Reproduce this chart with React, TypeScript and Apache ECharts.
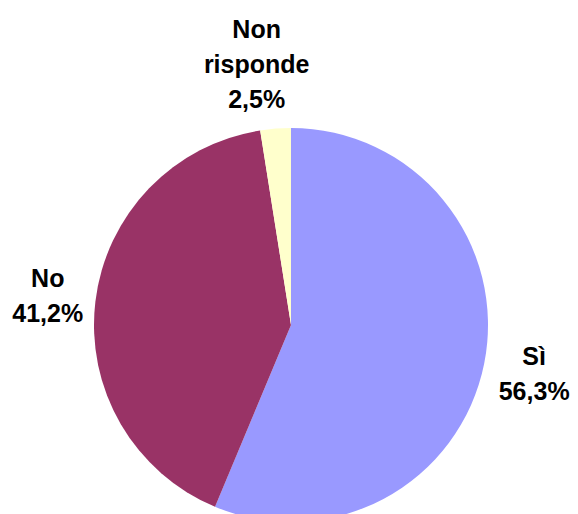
import React, { useEffect, useRef } from "react";
import * as echarts from "echarts";

const categories = ["Sì", "No", "Non risponde"];
const values = [56.3, 41.2, 2.5];
const colors = ["#9999FF", "#993366", "#FFFFCC"];
const labelNames = ["Sì", "No", "Non\nrisponde"];

const CENTER: [number, number] = [291, 325];
const RADIUS = 197;
// label anchor distance from centre and angular nudge (deg) per slice
const LABEL_DIST = [248, 245, 263];
const LABEL_NUDGE = [0, 0, -3];

export default function App() {
  const ref = useRef<HTMLDivElement>(null);
  useEffect(() => {
    if (!ref.current) return;
    const chart = echarts.init(ref.current, undefined, { renderer: "svg" });
    const total = values.reduce((a, b) => a + b, 0);
    const mids: number[] = [];
    let acc = 0;
    values.forEach((v) => {
      mids.push(((acc + v / 2) / total) * 360);
      acc += v;
    });
    chart.setOption({
      animation: false,
      backgroundColor: "#ffffff",
      series: [
        {
          type: "pie",
          center: CENTER,
          radius: RADIUS,
          startAngle: 90,
          clockwise: true,
          avoidLabelOverlap: false,
          data: categories.map((c, i) => ({
            name: c,
            value: values[i],
            itemStyle: { color: colors[i] },
          })),
          itemStyle: { borderWidth: 0 },
          label: {
            show: true,
            position: "outside",
            formatter: (p: any) =>
              labelNames[p.dataIndex] +
              "\n" +
              values[p.dataIndex].toFixed(1).replace(".", ",") +
              "%",
            color: "#000000",
            fontFamily: "Liberation Sans, Arial, sans-serif",
            fontWeight: "bold",
            fontSize: 25,
            lineHeight: 35,
            align: "center",
          },
          labelLine: { show: false },
          labelLayout: (params: any) => {
            const i = params.dataIndex;
            const a = ((mids[i] + LABEL_NUDGE[i]) * Math.PI) / 180;
            return {
              x: CENTER[0] + LABEL_DIST[i] * Math.sin(a),
              y: CENTER[1] - LABEL_DIST[i] * Math.cos(a),
              align: "center",
              verticalAlign: "middle",
            };
          },
          emphasis: { disabled: true },
        },
      ],
    });
    return () => chart.dispose();
  }, []);
  return (
    <div
      ref={ref}
      style={{ position: "absolute", left: 0, top: 0, width: 578, height: 514 }}
    />
  );
}
